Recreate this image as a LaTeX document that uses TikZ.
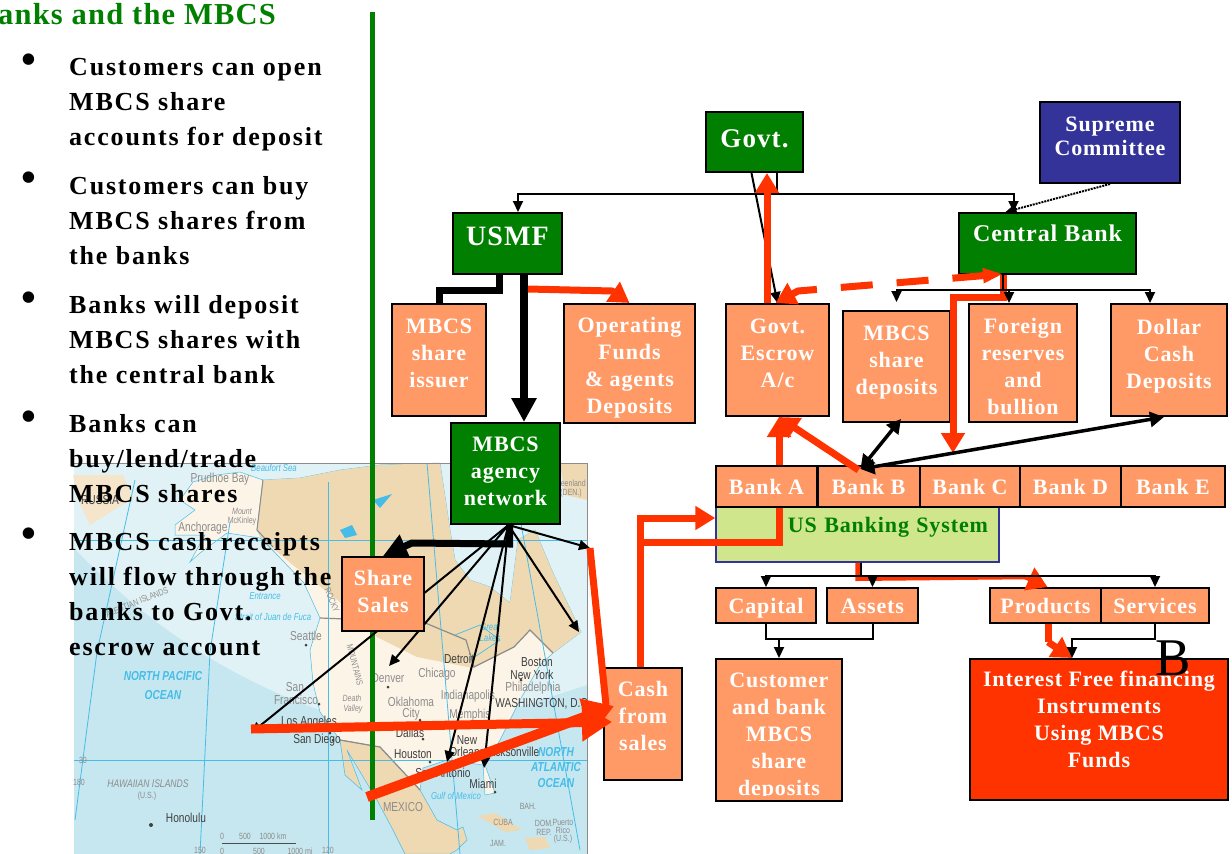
\documentclass[tikz,border=0pt]{standalone}
\usepackage{fontspec}
\setmainfont{Liberation Serif}
\newfontfamily\boxfont[LetterSpace=4]{Liberation Serif}
\newfontfamily\bodyfont[LetterSpace=7]{Liberation Serif}
\newfontfamily\mapfont[FakeStretch=0.78]{Liberation Sans}
\usepackage{tikz}
\usetikzlibrary{arrows.meta, calc}

\definecolor{boxorange}{HTML}{FF9966}
\definecolor{boxgreen}{HTML}{007F00}
\definecolor{boxblue}{HTML}{333399}
\definecolor{boxlime}{HTML}{CFE68C}
\definecolor{flowred}{HTML}{FF3300}
\definecolor{sea}{HTML}{C6E7EF}
\definecolor{sealight}{HTML}{E1F2F6}
\definecolor{landtan}{HTML}{EFD9B2}
\definecolor{landcream}{HTML}{FDF4E8}
\definecolor{mapblue}{HTML}{45BDE8}
\definecolor{mapgrey}{HTML}{8C8C8C}

\begin{document}
\begin{tikzpicture}[x=1pt, y=-1pt,
    box/.style = {draw, line width=2pt, inner sep=0pt, align=center, text=white, font=\boxfont\bfseries\fontsize{22}{27}\selectfont},
    orange/.style = {box, fill=boxorange},
    green/.style = {box, fill=boxgreen},
    rowbox/.style = {orange, text height=21pt, text depth=5pt},
    para/.style = {anchor=north west, inner sep=0pt, align=left, font=\bodyfont\bfseries\fontsize{26}{35}\selectfont},
    dot/.style = {inner sep=0pt, font=\fontsize{48}{48}\selectfont},
    citydark/.style = {inner sep=0pt, text=black!75, font=\mapfont\fontsize{13}{13}\selectfont},
    citygrey/.style = {inner sep=0pt, text=mapgrey, font=\mapfont\fontsize{13}{13}\selectfont},
    small/.style = {inner sep=0pt, text=mapgrey, font=\mapfont\fontsize{9}{9}\selectfont},
    seablue/.style = {inner sep=0pt, text=mapblue, font=\mapfont\itshape\fontsize{10}{10}\selectfont},
    seabold/.style = {inner sep=0pt, text=mapblue, font=\mapfont\bfseries\itshape\fontsize{13}{13}\selectfont},
    gridline/.style = {mapblue, line width=0.8pt},
    coast/.style = {mapblue, line width=0.7pt},
    thin line/.style = {line width=2pt, -{Triangle[length=11pt, width=10pt]}},
    mid line/.style = {line width=3.5pt, {Triangle[length=14pt, width=15pt]}-{Triangle[length=14pt, width=15pt]}},
    red line/.style = {flowred, line width=7pt, -{Triangle[length=20pt, width=23pt]}},
    red plain/.style = {flowred, line width=7pt}]

    \useasboundingbox (0, 0) rectangle (1232, 854);

    % map
    \fill[sea] (74, 463) rectangle (587, 854);
    \fill[sealight] (74, 463) -- (74, 548) .. controls (115, 590) and (170, 640) .. (250, 680)
        .. controls (320, 715) and (400, 745) .. (503, 712) -- (587, 685) -- (587, 463) -- cycle;
    \fill[landtan!55!landcream] (73, 475) -- (123, 475) -- (133, 498) -- (90, 525) -- (77, 498) -- cycle;
    \filldraw[fill=landcream, draw=mapblue, line width=0.5pt] (193, 482) -- (217, 475) -- (240, 472) -- (263, 480) -- (257, 530) -- (273, 547)
        -- (293, 570) -- (260, 538) -- (227, 533) -- (200, 553) -- (190, 562) -- (205, 535) -- (175, 535)
        -- (175, 525) -- (195, 510) -- (180, 500) -- cycle;
    \filldraw[fill=landcream, draw=mapblue, line width=0.5pt] (263, 480) -- (300, 478) -- (340, 470) -- (380, 465) -- (440, 463) -- (450, 530)
        -- (455, 560) -- (470, 580) -- (490, 587) -- (510, 603) -- (518, 540) -- (535, 530) -- (553, 573) -- (581, 632)
        -- (553, 653) -- (540, 665) -- (520, 700) -- (510, 720) -- (500, 740) -- (485, 765) -- (495, 793) -- (485, 795)
        -- (483, 765) -- (447, 760) -- (423, 768) -- (420, 790) -- (380, 747) -- (340, 740) -- (320, 712) -- (313, 683)
        -- (310, 650) -- (320, 618) -- (304, 583) -- (263, 540) -- (257, 530) -- cycle;
    \fill[landtan] (263, 480) -- (300, 478) -- (340, 470) -- (380, 465) -- (440, 463) -- (450, 530) -- (455, 560) -- (470, 580)
        -- (490, 587) -- (510, 603) -- (518, 540) -- (535, 530) -- (553, 573) -- (581, 632) -- (553, 653) -- (530, 630)
        -- (514, 647) -- (473, 668) -- (417, 657) -- (377, 637) -- (340, 602) -- (293, 565) -- (263, 540) -- (257, 530) -- cycle;
    \fill[landtan] (560, 463) -- (587, 463) -- (587, 500) -- (565, 495) -- cycle;
    \filldraw[fill=landtan, draw=mapblue, line width=0.5pt] (340, 740) -- (380, 747) -- (420, 790) -- (437, 820) -- (457, 830) -- (463, 827) -- (467, 840)
        -- (457, 850) -- (450, 854) -- (405, 854) -- (393, 830) -- (377, 800) -- (347, 750) -- (362, 790) -- (345, 775) -- cycle;
    \fill[landtan] (478, 816) -- (495, 813) -- (522, 830) -- (505, 832) -- cycle;
    \fill[landtan] (525, 838) -- (545, 837) -- (550, 848) -- (530, 850) -- cycle;
    \draw[mapgrey, line width=1.2pt] (320, 618) -- (423, 622) -- (466, 640) -- (474, 667) -- (514, 647) -- (530, 630) -- (553, 653);
    \draw[mapgrey, line width=1.2pt] (340, 740) -- (380, 747) -- (420, 790);
    \draw[mapgrey, line width=1pt] (263, 480) -- (257, 530) -- (273, 547);
    \fill[mapblue] (373, 500) -- (392, 494) -- (380, 508) -- cycle;
    \fill[mapblue] (340, 530) -- (352, 525) -- (357, 535) -- (345, 538) -- cycle;
    \draw[coast] (455, 635) -- (480, 625) -- (500, 640) -- (470, 660);
    \draw[gridline] (74, 540) -- (587, 540);
    \draw[gridline] (74, 760) -- (587, 760);
    \draw[gridline] (135, 480) -- (97, 652) -- (75, 820);
    \draw[gridline] (230, 522) -- (210, 652) -- (200, 854);
    \draw[gridline] (328, 482) -- (328, 854);
    \draw[gridline] (427, 463) -- (460, 854);
    \draw[gridline] (510, 463) -- (580, 850);
    \draw[mapgrey, line width=0.8pt] (74, 463) -- (587, 463) -- (587, 854);
    \fill[black!75] (306, 645) circle (1.5) (319, 704) circle (1.5) (330, 733) circle (1.5) (333, 740) circle (1.5)
        (388, 687) circle (1.5) (420, 720) circle (1.5) (423, 739) circle (1.5) (430, 762) circle (1.5)
        (495, 792) circle (1.5) (521, 680) circle (1.5) (151, 825) circle (2);

    \node[citydark] at (100, 500) (russia) {RUSSIA};
    \node[seablue] at (274, 468) (beaufort) {Beaufort Sea};
    \node[citygrey] at (220, 479) (prudhoe) {Prudhoe Bay};
    \node[small] at (242, 511) (mount) {\itshape Mount};
    \node[small] at (242, 521) (mckinley) {McKinley};
    \node[citygrey] at (203, 528) (anchorage) {Anchorage};
    \node[small, rotate=22] at (137, 602) (aleutian) {ALEUTIAN ISLANDS};
    \node[seablue] at (265, 596) (entrance) {Entrance};
    \node[seablue] at (273, 617) (fuca) {Strait of Juan de Fuca};
    \node[citygrey] at (306, 636) (seattle) {Seattle};
    \node[small, rotate=-68] at (332, 600) (rocky) {ROCKY};
    \node[small, rotate=-75] at (355, 665) (mountains) {MOUNTAINS};
    \node[citygrey] at (397, 577) (canada) {CANADA};
    \node[seablue] at (490, 627) (great) {Great};
    \node[seablue] at (490, 638) (lakes) {Lakes};
    \node[small, anchor=east] at (586, 483) (greenland) {Greenland};
    \node[small, anchor=east] at (582, 493) (den) {(DEN.)};
    \node[seabold] at (163, 676) (npacific) {NORTH PACIFIC};
    \node[seabold] at (163, 695) (pocean) {OCEAN};
    \node[citygrey] at (295, 687) (san) {San};
    \node[citygrey] at (296, 700) (francisco) {Francisco};
    \node[small] at (352, 698) (death) {\itshape Death};
    \node[small] at (353, 709) (valley) {\itshape Valley};
    \node[citydark] at (309, 722) (la) {Los Angeles};
    \node[citydark] at (317, 740) (sandiego) {San Diego};
    \node[citygrey] at (388, 678) (denver) {Denver};
    \node[citygrey] at (411, 702) (oklahoma) {Oklahoma};
    \node[citygrey] at (411, 714) (okcity) {City};
    \node[citygrey] at (437, 674) (chicago) {Chicago};
    \node[citydark] at (459, 659) (detroit) {Detroit};
    \node[citydark] at (537, 662) (boston) {Boston};
    \node[citydark] at (532, 675) (newyork) {New York};
    \node[citygrey] at (533, 688) (phila) {Philadelphia};
    \node[citydark] at (543, 704) (washington) {WASHINGTON, D.C.};
    \node[citygrey] at (468, 696) (indiana) {Indianapolis};
    \node[citygrey] at (470, 715) (memphis) {Memphis};
    \node[citydark] at (410, 733) (dallas) {Dallas};
    \node[citydark] at (413, 754) (houston) {Houston};
    \node[citydark] at (443, 773) (antonio) {San Antonio};
    \node[citydark] at (467, 740) (neworl) {New};
    \node[citydark] at (467, 752) (orleans) {Orleans};
    \node[citydark] at (512, 752) (jackson) {Jacksonville};
    \node[citydark] at (483, 784) (miami) {Miami};
    \node[seablue] at (456, 796) (gulf) {Gulf of Mexico};
    \node[seabold] at (556, 752) (natlantic) {NORTH};
    \node[seabold] at (556, 767) (atlantic) {ATLANTIC};
    \node[seabold] at (556, 783) (aocean) {OCEAN};
    \node[citygrey] at (403, 807) (mexico) {MEXICO};
    \node[small] at (503, 822) (cuba) {CUBA};
    \node[small] at (528, 806) (bah) {BAH.};
    \node[small] at (544, 823) (dom) {DOM.};
    \node[small] at (544, 832) (rep) {REP.};
    \node[small] at (563, 822) (puerto) {Puerto};
    \node[small] at (563, 830) (rico) {Rico};
    \node[small] at (563, 839) (ricous) {(U.S.)};
    \node[small] at (498, 843) (jam) {JAM.};
    \node[small, font=\mapfont\itshape\fontsize{11}{11}\selectfont] at (148, 784) (hawaii) {HAWAIIAN ISLANDS};
    \node[small] at (147, 796) (hawaiius) {(U.S.)};
    \node[citydark] at (186, 818) (honolulu) {Honolulu};
    \node[small] at (79, 782) (lat180) {180};
    \node[small] at (83, 760) (lat30) {30};
    \node[small] at (200, 850) (lon150) {150};
    \node[small] at (328, 850) (lon120) {120};
    \draw[black!70, line width=0.8pt] (222, 843) -- (296, 843);
    \node[small] at (222, 836) (km0) {0};
    \node[small] at (245, 836) (km500) {500};
    \node[small] at (273, 836) (km1000) {1000 km};
    \node[small] at (222, 851) (mi0) {0};
    \node[small] at (259, 851) (mi500) {500};
    \node[small] at (300, 851) (mi1000) {1000 mi};

    % rule and list
    \draw[boxgreen, line width=5pt] (372, 12) -- (372, 820);
    \node[anchor=west, inner sep=0pt, text=boxgreen, font=\boxfont\bfseries\fontsize{30.5}{30}\selectfont] at (-2, 14) (title) {anks and the MBCS};

    \node[dot] at (29, 65) (dota) {•};
    \node[dot] at (29, 183) (dotb) {•};
    \node[dot] at (29, 303) (dotc) {•};
    \node[dot] at (29, 422) (dotd) {•};
    \node[dot] at (29, 539) (dote) {•};
    \node[para] at (69, 58) (itema) {Customers can open\\MBCS share\\accounts for deposit};
    \node[para] at (69, 176) (itemb) {Customers can buy\\MBCS shares from\\the banks};
    \node[para] at (69, 295) (itemc) {Banks will deposit\\MBCS shares with\\the central bank};
    \node[para] at (69, 414) (itemd) {Banks can\\buy/lend/trade\\MBCS shares};
    \node[para] at (69, 532) (iteme) {MBCS cash receipts\\will flow through the\\banks to Govt.\\escrow account};

    % boxes
    \node[green, minimum width=97pt, minimum height=60pt, text depth=7pt, font=\boxfont\bfseries\fontsize{27}{27}\selectfont] at (754.5, 142) (govt) {Govt.};
    \node[box, fill=boxblue, minimum width=140pt, minimum height=81pt, text depth=12pt, font=\boxfont\bfseries\fontsize{22}{24}\selectfont] at (1110, 142.5) (supreme) {Supreme\\Committee};
    \node[green, minimum width=177pt, minimum height=61pt, text depth=20pt, font=\boxfont\bfseries\fontsize{24}{24}\selectfont] at (1047.5, 243.5) (centralbank) {Central Bank};
    \node[green, minimum width=109pt, minimum height=61pt, text depth=14pt, font=\boxfont\bfseries\fontsize{28}{28}\selectfont] at (507.5, 243.5) (usmf) {USMF};
    \node[orange, minimum width=94pt, minimum height=112pt, text depth=14pt] at (439, 360) (issuer) {MBCS\\share\\issuer};
    \node[orange, minimum width=131pt, minimum height=119pt, text height=104pt] at (629.5, 363.5) (operating) {Operating\\Funds\\\& agents\\Deposits};
    \node[green, minimum width=109pt, minimum height=101pt, text depth=4pt] at (505.5, 473.5) (agency) {MBCS\\agency\\network};
    \node[orange, minimum width=103pt, minimum height=112pt, text depth=13pt] at (777.5, 360) (escrow) {Govt.\\Escrow\\A/c};
    \node[orange, minimum width=107pt, minimum height=111pt, text depth=13pt] at (896.5, 366.5) (sharedep) {MBCS\\share\\deposits};
    \node[orange, minimum width=108pt, minimum height=118pt, text height=104pt] at (1023, 363) (foreign) {Foreign\\reserves\\and\\bullion};
    \node[orange, minimum width=116pt, minimum height=112pt, text depth=13pt] at (1169, 360) (dollar) {Dollar\\Cash\\Deposits};
    \node[orange, minimum width=78pt, minimum height=112pt, text depth=16pt] at (643, 724) (cash) {Cash\\from\\sales};

    % flows behind the bank row
    \node[box, fill=boxlime, draw=boxblue, line width=1.5pt, text=boxgreen, minimum width=283pt, minimum height=55pt, text width=261pt, align=right, text depth=19pt] at (857.5, 534.5) (usbank) {US Banking System};
    \draw[red line] ([xshift=-3pt]cash.north) -- (640, 518) -- (usbank.west |- 640, 518);
    \draw[red plain] (640, 542) -- (779, 542) -- (779, 466);
    \draw[red line] (779, 466) -- ([xshift=1.5pt]escrow.south);

    \node[orange, minimum width=101pt, minimum height=41pt] at (766.5, 486.5) (banka) {Bank A};
    \node[orange, minimum width=102pt, minimum height=41pt] at (868.5, 486.5) (bankb) {Bank B};
    \node[orange, minimum width=100pt, minimum height=41pt] at (970, 486.5) (bankc) {Bank C};
    \node[orange, minimum width=101pt, minimum height=41pt] at (1070.5, 486.5) (bankd) {Bank D};
    \node[orange, minimum width=104pt, minimum height=41pt] at (1173, 486.5) (banke) {Bank E};
    \node[rowbox, minimum width=100pt, minimum height=35pt] at (766, 605.5) (capital) {Capital};
    \node[rowbox, minimum width=91pt, minimum height=35pt] at (872.5, 605.5) (assets) {Assets};
    \node[rowbox, minimum width=111pt, minimum height=35pt] at (1045.5, 605.5) (products) {Products};
    \node[rowbox, minimum width=108pt, minimum height=35pt] at (1155, 605.5) (services) {Services};
    \node[orange, minimum width=126pt, minimum height=141pt, text height=136pt] at (779, 729.5) (customer) {Customer\\and bank\\MBCS\\share\\deposits};
    \fill[boxorange] (717, 795.5) rectangle (841, 800);
    \draw[line width=2pt] (customer.south west) -- (customer.south east);
    \node[box, fill=flowred, minimum width=258pt, minimum height=141pt, text depth=20pt] at (1099, 729.5) (interest) {Interest Free financing\\Instruments\\Using MBCS\\Funds};

    % connectors
    \draw[thin line] ([xshift=22pt]govt.south) -- ++(0, 21) -| ([xshift=10.5pt]usmf.north);
    \draw[thin line] ([xshift=22pt]govt.south) -- ++(0, 21) -| ([xshift=-34pt]centralbank.north);
    \draw[thin line] ([xshift=-3pt]govt.south) -- (escrow.north);
    \draw[thin line, densely dotted, -{Triangle[length=11pt, width=10pt]}] (supreme.south) -- ([xshift=-42pt]centralbank.north);
    \draw[red line] ([xshift=-10.5pt]escrow.north) -- ([xshift=12.5pt]govt.south);

    \draw[line width=7pt] ([xshift=-8.5pt]usmf.south) -- ++(0, 15) -| (issuer.north);
    \draw[line width=8pt, -{Triangle[length=24pt, width=24pt]}] ([xshift=16.5pt]usmf.south) -- ([xshift=18.5pt]agency.north);
    \draw[red line] (528, 289) -- (612, 291) -- (operating.north);

    \draw[red plain] ([xshift=-44.5pt]centralbank.south) -- ++(0, 22) -| (953, 420);
    \draw[red line] (953, 420) -- (953, 453);
    \draw[thin line] ([xshift=-44.5pt]centralbank.south) -- ++(0, 15) -| ([yshift=8pt]sharedep.north);
    \draw[thin line] ([xshift=-44.5pt]centralbank.south) -- ++(0, 15) -| ([xshift=-14pt]foreign.north);
    \draw[thin line] ([xshift=-44.5pt]centralbank.south) -- ++(0, 15) -| ([xshift=-19pt]dollar.north);
    \draw[red line, dash pattern=on 32pt off 24pt, {Triangle[length=20pt, width=14pt]}-{Triangle[length=20pt, width=23pt]}] ([xshift=-44.5pt, yshift=1pt]centralbank.south) -- (798, 291) -- ([xshift=-2pt]escrow.north);

    \draw[red line] ([xshift=-10pt, yshift=-5pt]bankb.north) -- ([xshift=1pt]escrow.south);
    \draw[mid line] ([xshift=-8pt, yshift=-4pt]bankb.north) -- ([xshift=4.5pt, yshift=4pt]sharedep.south);
    \draw[mid line] ([xshift=-8pt, yshift=-4pt]bankb.north) -- ([xshift=-5pt]dollar.south);

    \draw[red plain, line width=4.5pt] (usbank.south) -- ++(0, 16) -- (1025, 577);
    \draw[red line, line width=4.5pt, -{Triangle[length=20pt, width=24pt]}] (1025, 577) -- ([xshift=2pt]products.north);
    \draw[thin line] ([xshift=3pt]usbank.south) -- ++(0, 13) -| (capital.north);
    \draw[thin line] ([xshift=3pt]usbank.south) -- ++(0, 13) -| (assets.north);
    \draw[thin line] ([xshift=3pt]usbank.south) -- ++(0, 13) -| (services.north);

    \draw[line width=2pt] (capital.south) -- ++(0, 15) -| (assets.south);
    \coordinate (capjoin) at (customer.north |- capital.south);
    \draw[thin line] ([yshift=-15pt]capjoin) -- (customer.north);
    \draw[red plain] ([xshift=2.5pt]products.south) -- ++(0, 18);
    \draw[red line] ([xshift=2.5pt, yshift=-18pt]products.south) -- ([xshift=-27pt]interest.north);
    \draw[thin line] (services.south) -- ++(0, 15) -| ([xshift=-27pt]interest.north);
    \node[inner sep=0pt, font=\fontsize{53}{53}\selectfont] at (1173, 658) (bigb) {B};

    % agency spread over the map
    \coordinate (sanfran) at (251, 733);
    \coordinate (denverend) at (389, 666);
    \coordinate (orleansend) at (447, 762);
    \coordinate (floridaend) at (484, 768);
    \coordinate (maineend) at (579, 632);
    \coordinate (coastend) at (590, 548);
    \draw[thin line] ([xshift=3pt]agency.south) -- (sanfran);
    \draw[thin line] ([xshift=3pt]agency.south) -- (denverend);
    \draw[thin line] ([xshift=3pt]agency.south) -- (orleansend);
    \draw[thin line] ([xshift=3pt]agency.south) -- (floridaend);
    \draw[thin line] ([xshift=3pt]agency.south) -- (maineend);
    \draw[thin line] ([xshift=3pt]agency.south) -- (coastend);
    \node[orange, minimum width=82pt, minimum height=74pt, text depth=6pt] at (383, 594) (sharesales) {Share\\Sales};
    \draw[line width=7pt, -{Triangle[length=24pt, width=24pt]}] ([xshift=4pt]agency.south) -- ++(0, 19) -- (412, 543) -- (sharesales.north);

    \coordinate (mapwest) at (251, 729);
    \coordinate (mapsouth) at (367, 797);
    \draw[red plain] (coastend) -- ([xshift=3pt, yshift=19pt]cash.west);
    \draw[red line, line width=9pt, -{Triangle[length=30pt, width=36pt]}] (mapwest) -- ([xshift=9pt, yshift=2pt]cash.west);
    \draw[red line, line width=10pt, -{Triangle[length=30pt, width=36pt]}] (mapsouth) -- ([xshift=11pt, yshift=18pt]cash.west);
\end{tikzpicture}
\end{document}
